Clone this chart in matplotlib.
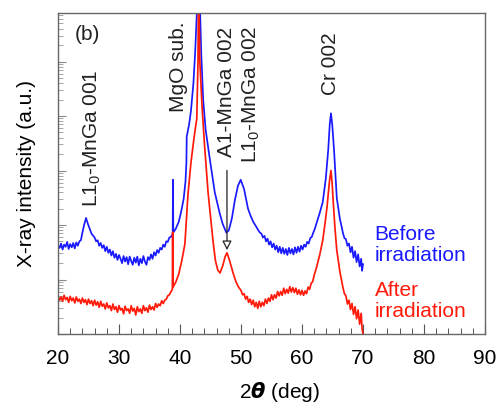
import numpy as np
import matplotlib
matplotlib.use("Agg")
import matplotlib.pyplot as plt
from matplotlib.ticker import MultipleLocator, LogLocator, NullFormatter

plt.rcParams['font.family'] = ['Liberation Sans', 'DejaVu Sans']
plt.rcParams['mathtext.fontset'] = 'custom'
plt.rcParams['mathtext.rm'] = 'Liberation Sans'
plt.rcParams['mathtext.it'] = 'Liberation Sans:italic'
plt.rcParams['mathtext.bf'] = 'Liberation Sans:bold'

# ---- data (2theta in deg, log10 of intensity in a.u.) ----
before_x = [20.0, 20.25, 20.5, 20.75, 21.0, 21.25, 21.5, 21.75, 22.0, 22.25, 22.5, 22.75,
            23.0, 23.25, 23.5, 23.75, 24.0, 24.3, 24.6, 24.9, 25.2, 25.5,
            26.0, 26.25, 26.5, 26.75, 27.0, 27.25, 27.5, 27.75, 28.0, 28.25, 28.5, 28.75,
            29.0, 29.25, 29.5, 29.75, 30.0, 30.25, 30.5, 30.75, 31.0, 31.25, 31.5, 31.75,
            32.0, 32.25, 32.5, 32.75, 33.0, 33.25, 33.5, 33.75, 34.0, 34.25, 34.5, 34.75,
            35.0, 35.25, 35.5, 35.75, 36.0, 36.25, 36.5, 36.75, 37.0, 37.25, 37.5, 37.75,
            38.0, 38.25, 38.5, 38.8, 38.85, 38.9, 39.3, 39.8, 40.2, 40.6, 40.9, 41.05, 41.1,
            41.5, 41.8, 42.2, 42.5, 42.8, 43.0, 43.3, 43.5, 43.8, 44.2, 44.9, 45.7, 46.5,
            47.0, 47.6, 48.0, 48.5, 49.0, 49.5, 49.95, 50.5, 51.15, 51.6, 52.0,
            52.6, 52.85, 53.1, 53.35, 53.6, 53.85, 54.1, 54.35, 54.6, 54.85, 55.1, 55.35,
            55.6, 55.85, 56.1, 56.35, 56.6, 56.85, 57.1, 57.35, 57.6, 57.85, 58.1, 58.35,
            58.6, 58.85, 59.1, 59.35, 59.6, 59.85, 60.1, 60.35, 60.6, 60.85, 61.1, 61.35,
            61.6, 61.85, 62.1, 62.4, 62.9, 63.4, 63.9, 64.3, 64.55, 64.75, 64.95, 65.25,
            65.7, 66.2, 66.7, 66.95, 67.2, 67.45, 67.7, 67.95, 68.2, 68.45, 68.7, 68.95,
            69.2, 69.45, 69.7, 69.85, 70.0]
before_log = [1.63, 1.58, 1.66, 1.55, 1.64, 1.60, 1.69, 1.56, 1.65, 1.59, 1.67, 1.57,
              1.68, 1.62, 1.70, 1.72, 1.86, 2.01, 2.13, 2.02, 1.93, 1.84,
              1.77, 1.70, 1.72, 1.62, 1.67, 1.58, 1.63, 1.52, 1.60, 1.49, 1.55, 1.44,
              1.52, 1.40, 1.47, 1.36, 1.45, 1.38, 1.30, 1.43, 1.33, 1.41, 1.28, 1.42,
              1.34, 1.27, 1.40, 1.31, 1.42, 1.26, 1.38, 1.30, 1.43, 1.33, 1.27, 1.41,
              1.36, 1.46, 1.38, 1.50, 1.44, 1.54, 1.49, 1.58, 1.55, 1.64, 1.60, 1.70,
              1.69, 1.77, 1.78, 1.84, 2.83, 1.86, 1.93, 2.06, 2.25, 2.48, 2.80, 3.15, 3.62,
              3.85, 4.10, 4.60, 5.20, 6.00, 6.40, 5.90, 5.10, 4.30, 3.75, 3.20, 2.60, 2.22,
              2.02, 1.86, 1.90, 2.12, 2.46, 2.72, 2.83, 2.66, 2.30, 2.16, 2.06,
              1.95, 1.90, 1.86, 1.84, 1.77, 1.80, 1.70, 1.75, 1.64, 1.70, 1.59, 1.66,
              1.55, 1.62, 1.50, 1.60, 1.48, 1.58, 1.47, 1.56, 1.45, 1.58, 1.48, 1.56,
              1.46, 1.59, 1.49, 1.60, 1.51, 1.62, 1.55, 1.64, 1.60, 1.69, 1.66, 1.76,
              1.78, 1.86, 1.93, 2.04, 2.22, 2.42, 2.85, 3.38, 3.85, 4.05, 3.85, 3.38,
              2.50, 2.12, 1.86, 1.76, 1.74, 1.62, 1.66, 1.50, 1.60, 1.40, 1.52, 1.32,
              1.46, 1.24, 1.38, 1.16, 1.28]

after_x = [20.0, 20.25, 20.5, 20.75, 21.0, 21.25, 21.5, 21.75, 22.0, 22.25, 22.5, 22.75,
           23.0, 23.25, 23.5, 23.75, 24.0, 24.25, 24.5, 24.75, 25.0, 25.25, 25.5, 25.75,
           26.0, 26.25, 26.5, 26.75, 27.0, 27.25, 27.5, 27.75, 28.0, 28.25, 28.5, 28.75,
           29.0, 29.25, 29.5, 29.75, 30.0, 30.25, 30.5, 30.75, 31.0, 31.25, 31.5, 31.75,
           32.0, 32.25, 32.5, 32.75, 33.0, 33.25, 33.5, 33.75, 34.0, 34.25, 34.5, 34.75,
           35.0, 35.25, 35.5, 35.75, 36.0, 36.25, 36.5, 36.75, 37.0, 37.25, 37.5, 37.75,
           38.0, 38.25, 38.5, 38.75, 38.8, 38.85, 39.3, 39.8, 40.3, 40.8, 41.3, 41.8, 42.3,
           42.75, 42.95, 43.05, 43.25, 43.6, 44.0, 44.6, 45.0, 45.4, 45.8, 46.2, 46.56,
           47.0, 47.4, 47.7, 48.1, 48.7, 49.2, 49.6,
           50.0, 50.25, 50.5, 50.75, 51.0, 51.25, 51.5, 51.75, 52.0, 52.25, 52.5, 52.75,
           53.0, 53.25, 53.5, 53.75, 54.0, 54.25, 54.5, 54.75, 55.0, 55.25, 55.5, 55.75,
           56.0, 56.25, 56.5, 56.75, 57.0, 57.25, 57.5, 57.75, 58.0, 58.25, 58.5, 58.75,
           59.0, 59.25, 59.5, 59.75, 60.0, 60.25, 60.5, 60.75, 61.0, 61.25, 61.5, 61.75,
           62.0, 62.4, 62.9, 63.4, 63.8, 64.1, 64.5, 64.75, 64.95, 65.1, 65.4, 65.7, 66.2,
           66.7, 66.95, 67.2, 67.45, 67.7, 67.95, 68.2, 68.45, 68.7, 68.95, 69.2, 69.45,
           69.7, 69.85, 70.0]
after_log = [0.70, 0.62, 0.68, 0.60, 0.71, 0.63, 0.67, 0.58, 0.69, 0.61, 0.66, 0.57,
             0.68, 0.60, 0.64, 0.56, 0.66, 0.58, 0.63, 0.54, 0.64, 0.56, 0.61, 0.52,
             0.62, 0.53, 0.59, 0.49, 0.60, 0.51, 0.55, 0.46, 0.57, 0.48, 0.52, 0.43,
             0.55, 0.45, 0.50, 0.40, 0.52, 0.44, 0.47, 0.37, 0.51, 0.43, 0.46, 0.38,
             0.52, 0.42, 0.47, 0.35, 0.50, 0.41, 0.46, 0.38, 0.52, 0.43, 0.48, 0.40,
             0.53, 0.45, 0.50, 0.44, 0.56, 0.49, 0.55, 0.52, 0.61, 0.56, 0.62, 0.64,
             0.70, 0.72, 0.77, 0.82, 1.87, 0.86, 0.95, 1.10, 1.35, 1.65, 2.55, 3.15, 3.60,
             3.95, 5.00, 6.40, 5.00, 4.20, 3.50, 2.60, 2.15, 1.72, 1.35, 1.17, 1.12,
             1.25, 1.42, 1.49, 1.36, 1.12, 0.95, 0.86,
             0.80, 0.72, 0.74, 0.64, 0.69, 0.58, 0.64, 0.54, 0.62, 0.50, 0.58, 0.47,
             0.60, 0.50, 0.58, 0.52, 0.64, 0.56, 0.66, 0.60, 0.72, 0.63, 0.72, 0.66,
             0.78, 0.70, 0.78, 0.71, 0.84, 0.74, 0.82, 0.75, 0.87, 0.77, 0.85, 0.76,
             0.84, 0.73, 0.81, 0.72, 0.80, 0.71, 0.79, 0.74, 0.86, 0.82, 0.93, 0.96,
             1.08, 1.23, 1.45, 1.72, 2.05, 2.33, 2.80, 3.00, 2.75, 2.46, 1.95, 1.54, 1.15,
             0.86, 0.74, 0.70, 0.55, 0.62, 0.45, 0.56, 0.36, 0.50, 0.28, 0.44, 0.18,
             0.38, 0.10, 0.00]

peak_labels = ['L1$_0$-MnGa 001', 'MgO sub.', 'A1-MnGa 002', 'L1$_0$-MnGa 002', 'Cr 002']
peak_label_x = [25.6, 39.7, 47.55, 51.65, 64.6]
peak_label_ylog = [2.33, 4.07, 3.25, 3.14, 4.39]

blue = '#1a1aff'
red = '#ff1a0a'

fig = plt.figure(figsize=(5.03, 4.05), dpi=100)
ax = fig.add_axes([58/503, 1-334/405, (485-58)/503, (334-13)/405])

ax.plot(before_x, 10**np.array(before_log), color=blue, lw=1.25)
ax.plot(after_x, 10**np.array(after_log), color=red, lw=1.25)

ax.set_yscale('log')
ax.set_xlim(20, 90)
ax.set_ylim(1, 10**5.89)

ax.xaxis.set_major_locator(MultipleLocator(10))
ax.xaxis.set_minor_locator(MultipleLocator(2))
ax.yaxis.set_major_locator(LogLocator(base=10, numticks=20))
ax.yaxis.set_minor_locator(LogLocator(base=10, subs=np.arange(2, 10), numticks=20))
ax.yaxis.set_major_formatter(NullFormatter())
ax.yaxis.set_minor_formatter(NullFormatter())

ax.tick_params(axis='x', which='major', direction='in', length=7.5, width=0.8,
               color='#555555', labelsize=15, pad=11)
ax.tick_params(axis='x', which='minor', direction='in', length=4, width=0.7, color='#555555')
ax.tick_params(axis='y', which='major', direction='in', length=6, width=0.8, color='#888888')
ax.tick_params(axis='y', which='minor', direction='in', length=3.5, width=0.6, color='#999999')
ax.tick_params(top=False, right=False, labelleft=False)

for s in ax.spines.values():
    s.set_color('#666666')
    s.set_linewidth(1.0)

ax.set_xlabel(r'2$\boldsymbol{\theta}$ (deg)', fontsize=15)
ax.xaxis.set_label_coords(0.52, -0.143)
ax.set_ylabel('X-ray intensity (a.u.)', fontsize=15)
ax.yaxis.set_label_coords(-0.052, 0.5)

ax.text(24.75, 10**5.50, '(b)', fontsize=15, ha='center', va='center', color='#222222')
for lab, px, py in zip(peak_labels, peak_label_x, peak_label_ylog):
    ax.text(px, 10**py, lab, rotation=90, ha='center', va='bottom', fontsize=15, color='#222222')

ax.annotate('', xy=(47.7, 10**1.54), xytext=(47.7, 10**3.0),
            arrowprops=dict(arrowstyle='-|>,head_length=0.55,head_width=0.28',
                            fc='white', ec='#222222', lw=0.9, shrinkA=0, shrinkB=0))

ax.text(71.9, 10**1.63, 'Before\nirradiation', color=blue, fontsize=15, ha='left', va='center',
        linespacing=1.15)
ax.text(71.9, 10**0.60, 'After\nirradiation', color=red, fontsize=15, ha='left', va='center',
        linespacing=1.15)

fig.savefig('out.png', dpi=100)
